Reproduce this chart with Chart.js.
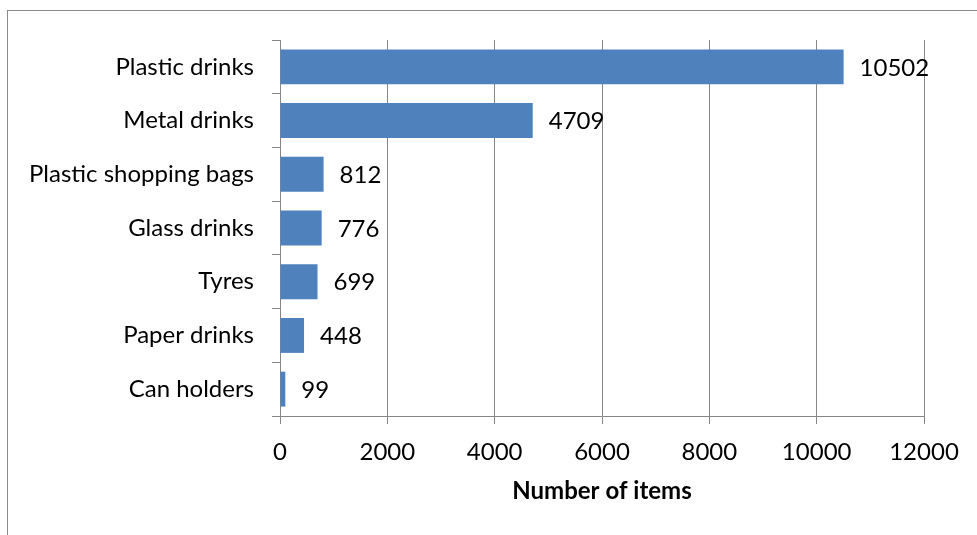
<!DOCTYPE html>
<html>
<head>
<meta charset="utf-8">
<script src="https://cdn.jsdelivr.net/npm/chart.js@4/dist/chart.umd.min.js"></script>
<style>
  html, body { margin: 0; padding: 0; background: #fff; }
  #wrap { position: relative; width: 977px; height: 535px; overflow: hidden; }
  #frame { position: absolute; left: 7px; top: 10px; width: 1000px; height: 600px;
           border-top: 1px solid #8a8a8a; border-left: 1px solid #8a8a8a; }
  canvas { position: absolute; left: 0; top: 0; }
</style>
</head>
<body>
<div id="wrap">
  <div id="frame"></div>
  <canvas id="itemsChart" width="977" height="535"></canvas>
</div>
<script>
// ===== Données =====
const categories = ["Plastic drinks", "Metal drinks", "Plastic shopping bags", "Glass drinks", "Tyres", "Paper drinks", "Can holders"];
const itemCounts = [10502, 4709, 812, 776, 699, 448, 99];
const axisTicks = [0, 2000, 4000, 6000, 8000, 10000, 12000];

const FONT = "Lato, 'Open Sans', sans-serif";
const GRID = "#868686";
const BAR = "#4f81bd";

// valeur écrite à droite de chaque barre
const valueLabels = {
    id: "valueLabels",
    afterDatasetsDraw(chart) {
        const ctx = chart.ctx;
        const meta = chart.getDatasetMeta(0);
        ctx.save();
        ctx.font = "24px " + FONT;
        ctx.fillStyle = "#000";
        ctx.textAlign = "left";
        ctx.textBaseline = "middle";
        meta.data.forEach((bar, i) => {
            ctx.fillText(String(itemCounts[i]), bar.x + 16, bar.y + 1);
        });
        ctx.restore();
    }
};

const ctx = document.getElementById("itemsChart").getContext("2d");
new Chart(ctx, {
    type: "bar",
    data: {
        labels: categories,
        datasets: [{
            data: itemCounts,
            backgroundColor: BAR,
            borderWidth: 0,
            barPercentage: 0.65,
            categoryPercentage: 1
        }]
    },
    options: {
        indexAxis: "y",
        responsive: false,
        animation: false,
        layout: { padding: { top: 40, right: 53, bottom: 0, left: 0 } },
        plugins: {
            legend: { display: false },
            tooltip: { enabled: false }
        },
        scales: {
            x: {
                min: axisTicks[0],
                max: axisTicks[axisTicks.length - 1],
                afterBuildTicks(scale) {
                    scale.ticks = axisTicks.map(v => ({ value: v }));
                },
                afterFit(scale) {
                    scale.height = 535 - 416;
                },
                grid: { color: GRID, lineWidth: 1, tickLength: 8 },
                border: { color: GRID, width: 1 },
                ticks: {
                    color: "#000",
                    font: { family: FONT, size: 24 },
                    padding: 14,
                    maxRotation: 0,
                    callback: v => String(v)
                },
                title: {
                    display: true,
                    text: "Number of items",
                    color: "#000",
                    font: { family: FONT, size: 24, weight: "bold" },
                    padding: { top: 0, bottom: 29 }
                }
            },
            y: {
                offset: true,
                afterFit(scale) {
                    scale.width = 280;
                },
                grid: { offset: true, drawOnChartArea: false, color: GRID, tickLength: 8 },
                border: { color: GRID, width: 1 },
                ticks: {
                    color: "#000",
                    font: { family: FONT, size: 24 },
                    padding: 18
                }
            }
        }
    },
    plugins: [valueLabels]
});
</script>
</body>
</html>
